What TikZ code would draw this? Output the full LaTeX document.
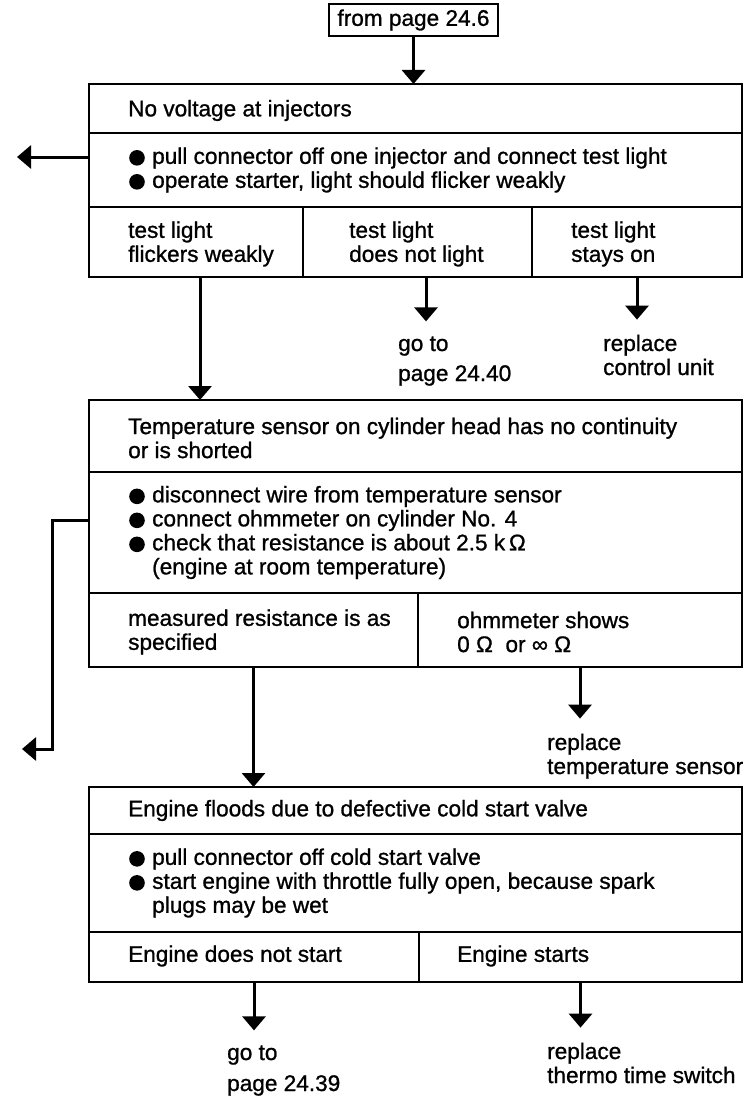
\documentclass[tikz,border=0pt]{standalone}
\usepackage{fontspec}
\setmainfont{Liberation Sans}[FakeBold=1]
\usetikzlibrary{arrows.meta, positioning, calc}

% dot in front of a check step
\newcommand{\bul}{\makebox[23pt][l]{\tikz[baseline=-6pt]\fill (7.8pt,0pt) circle (7.8pt);}}

\tikzset{
  cell/.style={draw, line width=2.8pt, anchor=north west, inner sep=0pt, outer sep=0pt},
  lbl/.style={align=left, inner sep=0pt},
  res/.style={align=left, inner sep=0pt, anchor=base west, outer ysep=15pt},
  arr/.style={line width=3pt, -{Triangle[width=23pt,length=14pt]}},
}

\begin{document}
\begin{tikzpicture}[x=1pt, y=-1pt, font=\fontsize{22.6pt}{24pt}\selectfont]
    \useasboundingbox (0,0) rectangle (754,1097);

    % Ingang
    \node[draw, line width=2pt, inner xsep=8pt, minimum height=32pt] (src) at (413.5,20) {from page 24.6};

    % Blok 1: injectoren
    \node[cell, minimum width=653pt, minimum height=49pt] (inj) at (89,84) {};
    \node[lbl, right=39pt of inj.west, yshift=-2pt] {No voltage at injectors};
    \node[cell, minimum width=653pt, minimum height=74pt] (chk1) at (89,133) {};
    \node[lbl, right=40pt of chk1.west] {\bul pull connector off one injector and connect test light\\\bul operate starter, light should flicker weakly};
    \foreach \n/\x/\w/\d/\txt in {1/89/214/39/{test light\\flickers weakly}, 2/303/229/46/{test light\\does not light}, 3/532/210/39/{test light\\stays on}} {
        \node[cell, minimum width=\w pt, minimum height=70pt] (lamp\n) at (\x,207) {};
        \node[lbl, right=\d pt of lamp\n.west, yshift=-2pt] {\txt};
    }
    \node[res] (go1) at (398,381) {go to\\[6pt]page 24.40};
    \node[res] (rep1) at (603,375) {replace\\control unit};

    % Blok 2: temperatuursensor
    \node[cell, minimum width=653pt, minimum height=72pt] (temp) at (89,400) {};
    \node[lbl, right=39pt of temp.west, yshift=-2pt] {Temperature sensor on cylinder head has no continuity\\or is shorted};
    \node[cell, minimum width=653pt, minimum height=121pt] (chk2) at (89,472) {};
    \node[lbl, right=40pt of chk2.west] {\bul disconnect wire from temperature sensor\\\bul connect ohmmeter on cylinder No. 4\\\bul check that resistance is about 2.5 k\,Ω\\\hspace*{23pt}(engine at room temperature)};
    \node[cell, minimum width=329pt, minimum height=74pt] (ohm1) at (89,593) {};
    \node[lbl, right=39pt of ohm1.west, yshift=-2pt] {measured resistance is as\\specified};
    \node[cell, minimum width=324pt, minimum height=74pt] (ohm2) at (418,593) {};
    \node[lbl, right=39pt of ohm2.west, yshift=-2pt] {ohmmeter shows\\0 Ω\ \ or ∞ Ω};
    \node[res] (rep2) at (547,774) {replace\\temperature sensor};

    % Blok 3: koudstartventiel
    \node[cell, minimum width=653pt, minimum height=47pt] (cold) at (89,787) {};
    \node[lbl, right=39pt of cold.west] {Engine floods due to defective cold start valve};
    \node[cell, minimum width=653pt, minimum height=98pt] (chk3) at (89,834) {};
    \node[lbl, right=40pt of chk3.west] {\bul pull connector off cold start valve\\\bul start engine with throttle fully open, because spark\\\hspace*{23pt}plugs may be wet};
    \node[cell, minimum width=330pt, minimum height=50pt] (eng1) at (89,932) {};
    \node[lbl, right=39pt of eng1.west, yshift=1pt] {Engine does not start};
    \node[cell, minimum width=323pt, minimum height=50pt] (eng2) at (419,932) {};
    \node[lbl, right=38pt of eng2.west, yshift=1pt] {Engine starts};
    \node[res] (go3) at (227,1091) {go to\\[7pt]page 24.39};
    \node[res] (rep3) at (547,1083) {replace\\thermo time switch};

    % Pijlen
    \draw[arr] (src.south) -- (src.south |- inj.north);
    \coordinate (out1) at (17,157);
    \draw[arr] (out1 -| chk1.west) -- (out1);
    \draw[arr] ($(lamp1.south)+(4,0)$) -- ($(lamp1.south |- temp.north)+(4,0)$);
    \draw[arr] ($(lamp2.south)+(8.5,0)$) -- ($(lamp2.south |- go1.north)+(8.5,0)$);
    \draw[arr] (lamp3.south) -- (lamp3.south |- rep1.north);

    \coordinate (kink) at (52,520);
    \coordinate (out2) at (22,749);
    \draw[arr] (kink -| chk2.west) -- (kink) |- (out2);
    \draw[arr] (ohm1.south) -- (ohm1.south |- cold.north);
    \draw[arr] (ohm2.south) -- (ohm2.south |- rep2.north);

    \draw[arr] (eng1.south) -- (eng1.south |- go3.north);
    \draw[arr] (eng2.south) -- (eng2.south |- rep3.north);
\end{tikzpicture}
\end{document}
